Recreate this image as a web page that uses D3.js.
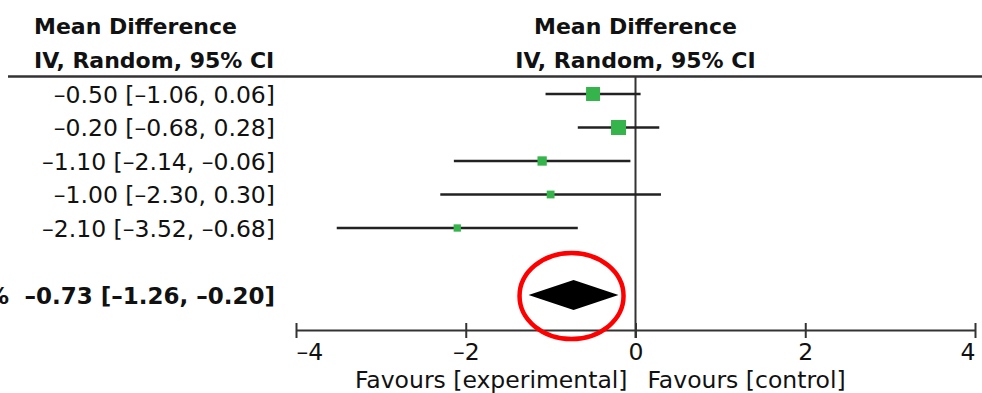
<!DOCTYPE html>
<html>
<head>
<meta charset="utf-8">
<script src="https://cdn.jsdelivr.net/npm/d3@7.9.0/dist/d3.min.js"></script>
<style>
  html, body { margin: 0; padding: 0; background: #fff; }
  svg { display: block; font-family: "DejaVu Sans", sans-serif; }
</style>
</head>
<body>
<svg id="forest" width="982" height="393"></svg>
<script>
// study rows (mean difference, 95% CI, weight %)
const meanDiff = [-0.50, -0.20, -1.10, -1.00, -2.10];
const ciLow = [-1.06, -0.68, -2.14, -2.30, -3.52];
const ciHigh = [0.06, 0.28, -0.06, 0.30, -0.68];
const weights = [29.2, 32.0, 16.2, 12.0, 10.6];

// pooled estimate
const pooledMD = -0.73;
const pooledLow = -1.26;
const pooledHigh = -0.20;
const pooledWeight = "100.0%";

const xTicks = [-4, -2, 0, 2, 4];
const headerLines = ["Mean Difference", "IV, Random, 95% CI"];
const favourLeft = "Favours [experimental]";
const favourRight = "Favours [control]";

const svg = d3.select('#forest');
const width = 982;

// dash that matches the original's short minus
const num = v => (v < 0 ? '\u2013' : '') + Math.abs(v).toFixed(2);
const ciText = (m, lo, hi) => `${num(m)} [${num(lo)}, ${num(hi)}]`;

const x = d3.scaleLinear().domain([-4, 4]).range([296, 975]);
// 5 studies, a blank row, then the total row
const y = d3.scalePoint().domain(d3.range(7)).range([94, 295]);
const totalRow = 6;
const side = d3.scaleLinear().domain(d3.extent(weights)).range([7.3, 15]);

const axisY = 330;
const ruleY = 76.5;

// header text
[35, 290].forEach((col, ci) => {
  headerLines.forEach((line, li) => {
    svg.append('text')
      .attr('x', ci === 0 ? 34 : x(0))
      .attr('y', 34 + li * 34)
      .attr('text-anchor', ci === 0 ? 'start' : 'middle')
      .attr('font-size', 22)
      .attr('font-weight', 'bold')
      .attr('fill', '#111')
      .text(line);
  });
});

// rule under header
svg.append('line')
  .attr('x1', 8).attr('x2', width)
  .attr('y1', ruleY).attr('y2', ruleY)
  .attr('stroke', '#333').attr('stroke-width', 2.5);

// line of no effect
svg.append('line')
  .attr('x1', x(0)).attr('x2', x(0))
  .attr('y1', ruleY).attr('y2', axisY + 8)
  .attr('stroke', '#333').attr('stroke-width', 2);

// study CI text
svg.selectAll('text.ci')
  .data(meanDiff)
  .enter()
  .append('text')
  .attr('class', 'ci')
  .attr('x', 275)
  .attr('y', (d, i) => y(i) + 8.5)
  .attr('text-anchor', 'end')
  .attr('font-size', 23.5)
  .attr('fill', '#111')
  .text((d, i) => ciText(d, ciLow[i], ciHigh[i]));

// study CI lines
svg.selectAll('line.whisker')
  .data(meanDiff)
  .enter()
  .append('line')
  .attr('class', 'whisker')
  .attr('x1', (d, i) => x(ciLow[i]))
  .attr('x2', (d, i) => x(ciHigh[i]))
  .attr('y1', (d, i) => y(i))
  .attr('y2', (d, i) => y(i))
  .attr('stroke', '#222')
  .attr('stroke-width', 2.5);

// weight squares
svg.selectAll('rect.box')
  .data(meanDiff)
  .enter()
  .append('rect')
  .attr('class', 'box')
  .attr('x', (d, i) => x(d) - side(weights[i]) / 2)
  .attr('y', (d, i) => y(i) - side(weights[i]) / 2)
  .attr('width', (d, i) => side(weights[i]))
  .attr('height', (d, i) => side(weights[i]))
  .attr('fill', '#34b44a');

// total row text
svg.append('text')
  .attr('x', 9)
  .attr('y', y(totalRow) + 8.5)
  .attr('text-anchor', 'end')
  .attr('font-size', 23)
  .attr('font-weight', 'bold')
  .attr('fill', '#111')
  .text(pooledWeight);

svg.append('text')
  .attr('x', 275)
  .attr('y', y(totalRow) + 8.5)
  .attr('text-anchor', 'end')
  .attr('font-size', 23)
  .attr('font-weight', 'bold')
  .attr('fill', '#111')
  .text(ciText(pooledMD, pooledLow, pooledHigh));

// pooled diamond
const cy = y(totalRow);
const diamond = [
  [x(pooledLow), cy], [x(pooledMD), cy - 15],
  [x(pooledHigh), cy], [x(pooledMD), cy + 15]
];
svg.append('path')
  .attr('d', d3.line()(diamond) + 'Z')
  .attr('fill', '#000');

// x axis
const axis = svg.append('g')
  .attr('transform', `translate(0,${axisY})`)
  .call(d3.axisBottom(x)
    .tickValues(xTicks)
    .tickSizeOuter(0)
    .tickFormat(d => (d < 0 ? '\u2013' : '') + Math.abs(d)));

axis.select('.domain').attr('stroke', '#333').attr('stroke-width', 2);
axis.selectAll('.tick line')
  .attr('y1', -7).attr('y2', 8)
  .attr('stroke', '#333').attr('stroke-width', 2);
axis.selectAll('.tick text')
  .attr('y', 30)
  .attr('dy', null)
  .attr('font-size', 23.5)
  .attr('font-family', '"DejaVu Sans", sans-serif')
  .attr('fill', '#111')
  .attr('text-anchor', (d, i) => i === 0 ? 'start' : i === xTicks.length - 1 ? 'end' : 'middle');

// favours labels
svg.append('text')
  .attr('x', x(0) - 8).attr('y', 388)
  .attr('text-anchor', 'end')
  .attr('font-size', 23.5)
  .attr('fill', '#111')
  .text(favourLeft);

svg.append('text')
  .attr('x', x(0) + 12).attr('y', 388)
  .attr('text-anchor', 'start')
  .attr('font-size', 23.5)
  .attr('fill', '#111')
  .text(favourRight);

// red annotation ring around pooled estimate
svg.append('ellipse')
  .attr('cx', x(pooledMD) - 2)
  .attr('cy', cy + 1)
  .attr('rx', 52)
  .attr('ry', 43)
  .attr('fill', 'none')
  .attr('stroke', '#f00')
  .attr('stroke-width', 4.5);
</script>
</body>
</html>
